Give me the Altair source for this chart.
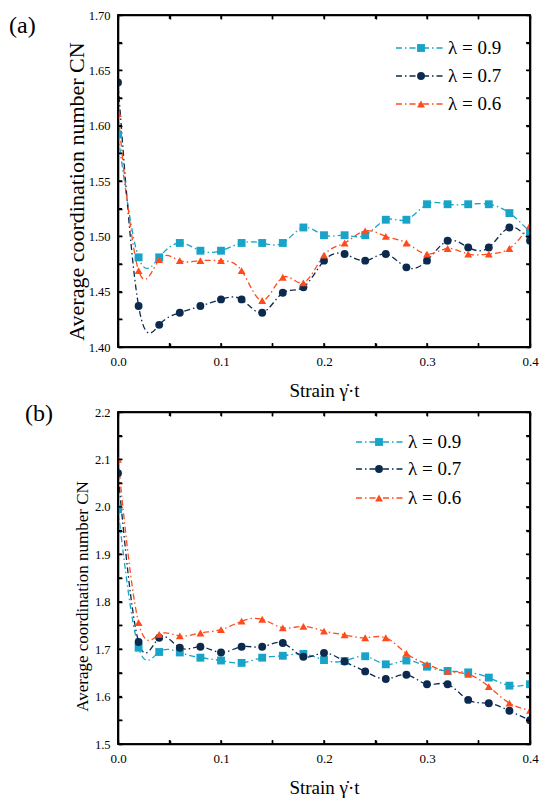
import altair as alt
import pandas as pd

# ---------------- data ----------------
strain = [0.00, 0.02, 0.04, 0.06, 0.08, 0.10, 0.12, 0.14, 0.16, 0.18, 0.20,
          0.22, 0.24, 0.26, 0.28, 0.30, 0.32, 0.34, 0.36, 0.38, 0.40]

series_names = ["λ = 0.9", "λ = 0.7", "λ = 0.6"]

# panel (a)
cn_a_09 = [1.592, 1.481, 1.481, 1.494, 1.487, 1.487, 1.494, 1.494, 1.494, 1.508, 1.501,
           1.501, 1.501, 1.515, 1.515, 1.529, 1.529, 1.529, 1.529, 1.521, 1.504]
cn_a_07 = [1.639, 1.437, 1.420, 1.431, 1.437, 1.443, 1.443, 1.431, 1.449, 1.454, 1.478,
           1.484, 1.478, 1.484, 1.472, 1.478, 1.496, 1.490, 1.490, 1.508, 1.496]
cn_a_06 = [1.611, 1.469, 1.479, 1.478, 1.478, 1.478, 1.469, 1.442, 1.463, 1.458, 1.483,
           1.494, 1.505, 1.500, 1.494, 1.484, 1.489, 1.484, 1.484, 1.489, 1.510]

# panel (b)
cn_b_09 = [1.995, 1.703, 1.694, 1.693, 1.682, 1.676, 1.671, 1.682, 1.686, 1.690, 1.677,
           1.675, 1.685, 1.668, 1.676, 1.663, 1.654, 1.651, 1.640, 1.623, 1.626]
cn_b_07 = [2.071, 1.715, 1.724, 1.703, 1.705, 1.693, 1.705, 1.705, 1.713, 1.684, 1.692,
           1.674, 1.653, 1.637, 1.646, 1.626, 1.626, 1.593, 1.586, 1.570, 1.550]
cn_b_06 = [2.100, 1.756, 1.731, 1.728, 1.734, 1.741, 1.759, 1.763, 1.745, 1.748, 1.738,
           1.730, 1.724, 1.724, 1.691, 1.668, 1.653, 1.647, 1.621, 1.586, 1.571]

x_ticks = [0.0, 0.05, 0.1, 0.15, 0.2, 0.25, 0.3, 0.35, 0.4]
y_ticks_a = [1.40, 1.425, 1.45, 1.475, 1.50, 1.525, 1.55, 1.575, 1.60, 1.625, 1.65, 1.675, 1.70]
y_ticks_b = [1.5, 1.55, 1.6, 1.65, 1.7, 1.75, 1.8, 1.85, 1.9, 1.95, 2.0, 2.05, 2.1, 2.15, 2.2]

# ---------------- styling ----------------
colors = ["#18A3C8", "#0C2A4E", "#FF4B1C"]
shapes = ["square", "circle", "triangle-up"]
DASH = [6, 3, 1.5, 3]
FONT = "Liberation Serif, Times New Roman, serif"
W, H = 412, 332
TICK = 4

AXIS_COMMON = dict(ticks=False, domain=True, domainColor="black", domainWidth=1.6,
                   labelFont=FONT, titleFont=FONT, labelColor="black", titleColor="black",
                   titleFontWeight="normal", labelFlush=False,
                   grid=True, gridColor="black", gridWidth=1.4, gridOpacity=1)


def label_expr(mult, fmt):
    return (f"abs(datum.value*{mult} - round(datum.value*{mult})) < 0.001 ? "
            f"format(datum.value, '{fmt}') : ''")


def panel(vals, ydom, yticks, ymult, yfmt, tag, tag_x, tag_y,
          leg_x1, leg_x2, leg_mx, leg_tx, leg_rows, ytitle_x, ytitle_y, ytitle_size):
    rows = []
    for name, v in zip(series_names, vals):
        for s, c in zip(strain, v):
            rows.append({"strain": s, "cn": c, "series": name})
    df = pd.DataFrame(rows)

    xs = alt.Scale(domain=[0, 0.4], nice=False, zero=False)
    ys = alt.Scale(domain=ydom, nice=False, zero=False)
    cscale = alt.Scale(domain=series_names, range=colors)
    sscale = alt.Scale(domain=series_names, range=shapes)

    x_axis = alt.Axis(values=x_ticks, labelExpr=label_expr(10, ".1f"), title="Strain γ̇·t",
                      titleFontSize=19, titleY=49, titleBaseline="alphabetic",
                      labelFontSize=13, labelPadding=8,
                      gridDash=[TICK, H - 2 * TICK, TICK, 2000], **AXIS_COMMON)
    y_axis = alt.Axis(values=yticks, labelExpr=label_expr(ymult, yfmt),
                      title="Average coordination number CN",
                      titleFontSize=ytitle_size, titleX=ytitle_x, titleY=ytitle_y,
                      titleBaseline="alphabetic", titleAlign="center",
                      labelFontSize=12.5, labelPadding=8,
                      gridDash=[TICK, W - 2 * TICK, TICK, 2000], **AXIS_COMMON)
    frame_axis = dict(labels=False, ticks=False, grid=False, title=None, domain=True,
                      domainColor="black", domainWidth=1.6)

    lines = alt.Chart(df).mark_line(interpolate="natural", strokeDash=DASH,
                                    strokeWidth=1.3, clip=True).encode(
        x=alt.X("strain:Q", scale=xs, axis=x_axis),
        y=alt.Y("cn:Q", scale=ys, axis=y_axis),
        color=alt.Color("series:N", scale=cscale, legend=None),
        detail="series:N")
    points = alt.Chart(df).mark_point(filled=True, opacity=1, size=62, clip=True).encode(
        x=alt.X("strain:Q", scale=xs, axis=alt.Axis(orient="top", **frame_axis)),
        y=alt.Y("cn:Q", scale=ys, axis=alt.Axis(orient="right", **frame_axis)),
        color=alt.Color("series:N", scale=cscale, legend=None),
        shape=alt.Shape("series:N", scale=sscale, legend=None))

    # inward tick marks on all four sides (drawn through the shared scales)
    ydf = pd.DataFrame({"tv": yticks})
    xdf = pd.DataFrame({"tu": x_ticks})
    tick_style = dict(color="black", strokeWidth=1.4)
    lt = alt.Chart(ydf).mark_rule(**tick_style).encode(
        y=alt.Y("tv:Q", scale=ys, axis=None), x=alt.value(0), x2=alt.value(TICK))
    rt = alt.Chart(ydf).mark_rule(**tick_style).encode(
        y=alt.Y("tv:Q", scale=ys, axis=None), x=alt.value(W - TICK), x2=alt.value(W))
    bt = alt.Chart(xdf).mark_rule(**tick_style).encode(
        x=alt.X("tu:Q", scale=xs, axis=None), y=alt.value(H - TICK), y2=alt.value(H))
    tt = alt.Chart(xdf).mark_rule(**tick_style).encode(
        x=alt.X("tu:Q", scale=xs, axis=None), y=alt.value(0), y2=alt.value(TICK))

    one = pd.DataFrame({"k": [0]})
    frame = alt.Chart(one).mark_rect(fillOpacity=0, stroke="black", strokeWidth=1.6).encode(
        x=alt.value(0), x2=alt.value(W), y=alt.value(0), y2=alt.value(H))

    legend_layers = []
    for name, col, shp, ly in zip(series_names, colors, shapes, leg_rows):
        legend_layers.append(alt.Chart(one).mark_rule(color=col, strokeDash=DASH, strokeWidth=1.3).encode(
            x=alt.value(leg_x1), x2=alt.value(leg_x2), y=alt.value(ly)))
        legend_layers.append(alt.Chart(one).mark_point(color=col, shape=shp, filled=True,
                                                      opacity=1, size=62).encode(
            x=alt.value(leg_mx), y=alt.value(ly)))
        legend_layers.append(alt.Chart(one).mark_text(align="left", baseline="middle", font=FONT,
                                                     fontSize=19, color="black").encode(
            x=alt.value(leg_tx), y=alt.value(ly), text=alt.value(name)))

    tag_layer = alt.Chart(one).mark_text(align="left", baseline="alphabetic", font=FONT,
                                         fontSize=24, color="black").encode(
        x=alt.value(tag_x), y=alt.value(tag_y), text=alt.value(tag))

    return alt.layer(lines, points, lt, rt, bt, tt, frame, *legend_layers, tag_layer).resolve_axis(
        x="independent", y="independent").properties(width=W, height=H)


pa = panel([cn_a_09, cn_a_07, cn_a_06], [1.40, 1.70], y_ticks_a, 20, ".2f",
           "(a)", -109, 18,
           278, 326, 303, 330, [33, 61, 89], -34.5, 176, 22)
pb = panel([cn_b_09, cn_b_07, cn_b_06], [1.5, 2.2], y_ticks_b, 10, ".1f",
           "(b)", -93, 9,
           238, 287, 261, 290, [30, 57, 86], -31, 184, 17)

chart = alt.vconcat(pa, pb, spacing=0, padding=0, background="white").configure_view(
    stroke="black", strokeWidth=1.6)

chart.save("out.html", embed_options={"renderer": "svg", "actions": False})
